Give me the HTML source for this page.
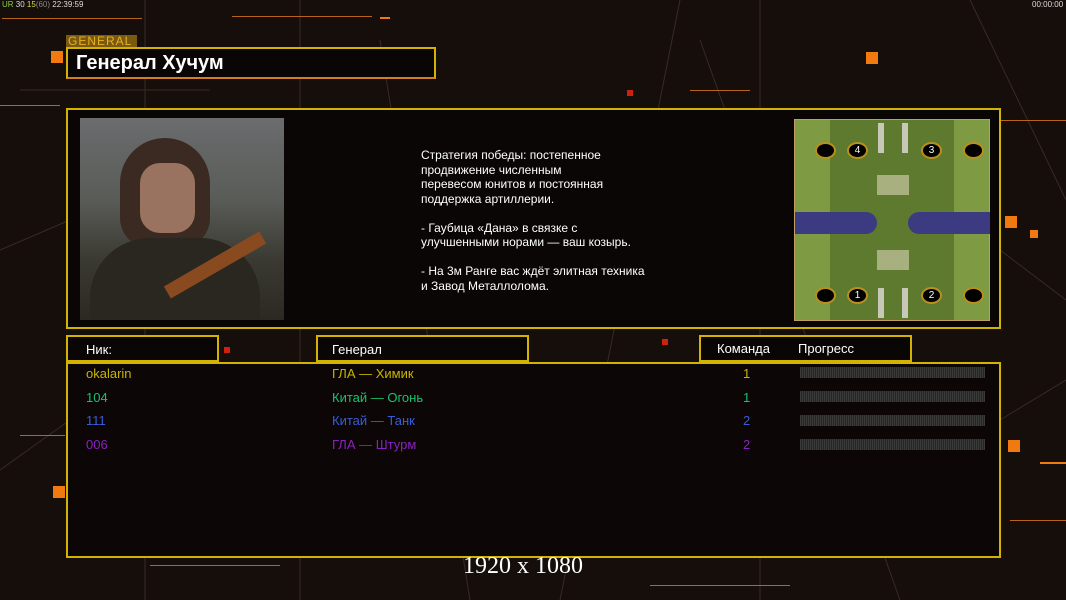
<!DOCTYPE html>
<html><head><meta charset="utf-8"><style>
body{margin:0;width:1066px;height:600px;background:#150e0b;overflow:hidden;position:relative;font-family:"Liberation Sans",sans-serif;}
.a{position:absolute;}
.box{position:absolute;border:2px solid #d2b300;background:#0a0605;box-sizing:border-box;}
.sq{position:absolute;background:#f07a10;width:12px;height:12px;}
.rs{position:absolute;background:#d02010;width:6px;height:6px;}
.hl{position:absolute;height:2px;background:#b8641a;}
.t{position:absolute;font-size:13px;white-space:nowrap;}
</style></head><body>
<svg class="a" style="left:0;top:0" width="1066" height="600">
<g stroke="#3a2a22" stroke-width="1" fill="none">
<line x1="145" y1="0" x2="145" y2="600"/><line x1="300" y1="0" x2="300" y2="600"/>
<line x1="380" y1="40" x2="470" y2="600"/><line x1="680" y1="0" x2="560" y2="600"/>
<line x1="700" y1="40" x2="900" y2="600"/><line x1="760" y1="0" x2="760" y2="600"/>
<line x1="970" y1="0" x2="1066" y2="200"/><line x1="20" y1="90" x2="210" y2="90"/>
<line x1="0" y1="250" x2="70" y2="220"/><line x1="0" y1="470" x2="70" y2="420"/>
<line x1="1000" y1="250" x2="1066" y2="300"/><line x1="1000" y1="420" x2="1066" y2="380"/>
</g></svg>
<div class="hl" style="left:2px;top:18px;width:140px;height:1px"></div>
<div class="hl" style="left:232px;top:16px;width:140px;height:1px"></div>
<div class="hl" style="left:380px;top:17px;width:10px;height:2px;background:#f07a10"></div>
<div class="hl" style="left:0;top:105px;width:60px;height:1px"></div>
<div class="hl" style="left:690px;top:90px;width:60px;height:1px"></div>
<div class="hl" style="left:1000px;top:120px;width:66px;height:1px"></div>
<div class="hl" style="left:20px;top:435px;width:45px;height:1px"></div>
<div class="hl" style="left:1010px;top:520px;width:56px;height:1px"></div>
<div class="hl" style="left:150px;top:565px;width:130px;height:1px"></div>
<div class="hl" style="left:650px;top:585px;width:140px;height:1px"></div>
<div class="hl" style="left:1040px;top:462px;width:26px;height:2px;background:#f07a10"></div>
<div class="sq" style="left:51px;top:51px"></div>
<div class="sq" style="left:866px;top:52px"></div>
<div class="sq" style="left:1005px;top:216px"></div>
<div class="sq" style="left:1008px;top:440px"></div>
<div class="sq" style="left:53px;top:486px"></div>
<div class="sq" style="left:1030px;top:230px;width:8px;height:8px"></div>
<div class="rs" style="left:627px;top:90px"></div>
<div class="rs" style="left:224px;top:347px"></div>
<div class="rs" style="left:662px;top:339px"></div>
<div class="t" style="left:2px;top:0;font-size:8px;color:#ddd"><span style="color:#8c4">UR</span> 30 <span style="color:#dd4">15</span><span style="color:#888">(60)</span> 22:39:59</div>
<div class="t" style="left:1032px;top:0;font-size:8px;color:#ddd">00:00:00</div>
<div class="a" style="left:66px;top:35px;width:71px;height:13px;background:#7a5a10;color:#e8b020;font-size:12px;line-height:13px;letter-spacing:1px;padding-left:2px;box-sizing:border-box">GENERAL</div>
<div class="box" style="left:66px;top:47px;width:370px;height:32px;border-bottom-color:#d08020"><div class="t" style="left:8px;top:3px;font-size:20px;font-weight:bold;color:#fff">Генерал Хучум</div></div>
<div class="box" style="left:66px;top:108px;width:935px;height:221px"></div>
<div class="a" style="left:80px;top:118px;width:204px;height:202px;background:linear-gradient(180deg,#6a6c6e 0%,#5a5c58 40%,#3a3a32 70%,#2a2a22 100%)">
<div class="a" style="left:40px;top:20px;width:90px;height:110px;border-radius:45px 45px 30px 30px;background:#3a2a22"></div>
<div class="a" style="left:60px;top:45px;width:55px;height:70px;border-radius:20px;background:#9a7260"></div>
<div class="a" style="left:10px;top:120px;width:170px;height:82px;border-radius:60px 60px 0 0;background:#2a2620"></div>
<div class="a" style="left:80px;top:140px;width:110px;height:14px;background:#8a4a20;transform:rotate(-30deg)"></div>
</div>
<div class="t" style="left:421px;top:148px;font-size:12px;line-height:14.5px;color:#fff">Стратегия победы: постепенное<br>продвижение численным<br>перевесом юнитов и постоянная<br>поддержка артиллерии.<br><br>- Гаубица «Дана» в связке с<br>улучшенными норами — ваш козырь.<br><br>- На 3м Ранге вас ждёт элитная техника<br>и Завод Металлолома.</div>
<div class="a" style="left:794px;top:119px;width:196px;height:202px;background:#7e9a42;border:1px solid #c0a060;box-sizing:border-box">
<div class="a" style="left:35px;top:0;width:124px;height:200px;background:#5e7a2e"></div>
<div class="a" style="left:0;top:92px;width:82px;height:22px;background:#3c3a80;border-radius:0 11px 11px 0"></div>
<div class="a" style="left:113px;top:92px;width:82px;height:22px;background:#3c3a80;border-radius:11px 0 0 11px"></div>
<div class="a" style="left:82px;top:55px;width:32px;height:20px;background:#a8b080"></div>
<div class="a" style="left:82px;top:130px;width:32px;height:20px;background:#a8b080"></div>
<div class="a" style="left:83px;top:3px;width:6px;height:30px;background:#c8c8b8"></div><div class="a" style="left:107px;top:3px;width:6px;height:30px;background:#c8c8b8"></div>
<div class="a" style="left:83px;top:168px;width:6px;height:30px;background:#c8c8b8"></div><div class="a" style="left:107px;top:168px;width:6px;height:30px;background:#c8c8b8"></div>
<div class="a" style="left:20px;top:22px;width:17px;height:13px;border-radius:50%;background:#000;border:2px solid #b89020"></div>
<div class="a" style="left:52px;top:22px;width:17px;height:13px;border-radius:50%;background:#000;border:2px solid #b89020;color:#fff;font-size:10px;text-align:center;line-height:13px">4</div>
<div class="a" style="left:126px;top:22px;width:17px;height:13px;border-radius:50%;background:#000;border:2px solid #b89020;color:#fff;font-size:10px;text-align:center;line-height:13px">3</div>
<div class="a" style="left:168px;top:22px;width:17px;height:13px;border-radius:50%;background:#000;border:2px solid #b89020"></div>
<div class="a" style="left:20px;top:167px;width:17px;height:13px;border-radius:50%;background:#000;border:2px solid #b89020"></div>
<div class="a" style="left:52px;top:167px;width:17px;height:13px;border-radius:50%;background:#000;border:2px solid #b89020;color:#fff;font-size:10px;text-align:center;line-height:13px">1</div>
<div class="a" style="left:126px;top:167px;width:17px;height:13px;border-radius:50%;background:#000;border:2px solid #b89020;color:#fff;font-size:10px;text-align:center;line-height:13px">2</div>
<div class="a" style="left:168px;top:167px;width:17px;height:13px;border-radius:50%;background:#000;border:2px solid #b89020"></div>
</div>
<div class="box" style="left:66px;top:335px;width:153px;height:27px"><div class="t" style="left:18px;top:5px;color:#fff">Ник:</div></div>
<div class="box" style="left:316px;top:335px;width:213px;height:27px"><div class="t" style="left:14px;top:5px;color:#fff">Генерал</div></div>
<div class="box" style="left:699px;top:335px;width:213px;height:27px"><div class="t" style="left:16px;top:4px;color:#fff">Команда</div><div class="t" style="left:97px;top:4px;color:#fff">Прогресс</div></div>
<div class="box" style="left:66px;top:362px;width:935px;height:196px;background:#0c0706"></div>
<div class="t" style="left:86px;top:366px;color:#c8b400">okalarin</div><div class="t" style="left:332px;top:366px;color:#c8b400">ГЛА — Химик</div><div class="t" style="left:743px;top:366px;color:#c8b400">1</div>
<div class="t" style="left:86px;top:390px;color:#18c070">104</div><div class="t" style="left:332px;top:390px;color:#18c070">Китай — Огонь</div><div class="t" style="left:743px;top:390px;color:#18c070">1</div>
<div class="t" style="left:86px;top:413px;color:#3a5cd8">111</div><div class="t" style="left:332px;top:413px;color:#3a5cd8">Китай — Танк</div><div class="t" style="left:743px;top:413px;color:#3a5cd8">2</div>
<div class="t" style="left:86px;top:437px;color:#8a20c0">006</div><div class="t" style="left:332px;top:437px;color:#8a20c0">ГЛА — Штурм</div><div class="t" style="left:743px;top:437px;color:#8a20c0">2</div>
<div class="a" style="left:800px;top:367px;width:185px;height:11px;background:repeating-linear-gradient(90deg,#3a3a3a 0 1px,#262626 1px 2px)"></div>
<div class="a" style="left:800px;top:391px;width:185px;height:11px;background:repeating-linear-gradient(90deg,#3a3a3a 0 1px,#262626 1px 2px)"></div>
<div class="a" style="left:800px;top:415px;width:185px;height:11px;background:repeating-linear-gradient(90deg,#3a3a3a 0 1px,#262626 1px 2px)"></div>
<div class="a" style="left:800px;top:439px;width:185px;height:11px;background:repeating-linear-gradient(90deg,#3a3a3a 0 1px,#262626 1px 2px)"></div>
<div class="t" style="left:463px;top:553px;font-family:'Liberation Serif',serif;font-size:24px;color:#fff">1920 x 1080</div>
</body></html>
